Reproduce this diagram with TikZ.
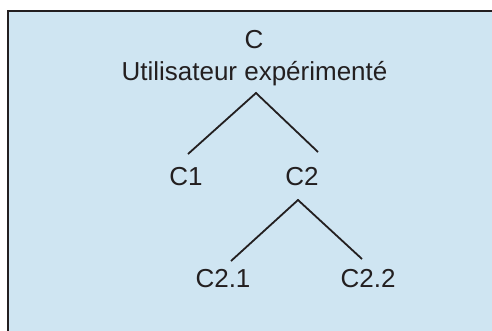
\documentclass[tikz,border=0pt]{standalone}
\usepackage{fontspec}
\setmainfont{Liberation Sans}
\definecolor{panel}{RGB}{207,229,242}
\definecolor{ink}{RGB}{35,31,32}
\begin{document}
\begin{tikzpicture}[x=1pt,y=-1pt,
  lbl/.style={anchor=base,inner sep=0pt,text=ink,font=\fontsize{26}{30}\selectfont},
  edge/.style={draw=ink,line width=1.8pt}]
\useasboundingbox (0,0) rectangle (492,330);
\fill[white] (0,0) rectangle (492,330);
\draw[fill=panel,draw=ink,line width=2pt] (8,11) rectangle (520,360);
\node[lbl] (c) at (254,48) {C};
\node[lbl] (cu) at (254.5,80) {Utilisateur expérimenté};
\node[lbl] (c1) at (186,185) {C1};
\node[lbl] (c2) at (302,185) {C2};
\node[lbl] (c21) at (223,287) {C2.1};
\node[lbl] (c22) at (368,287) {C2.2};
\coordinate (a1) at (256,93);
\coordinate (l1) at (188,154);
\coordinate (r1) at (318,152);
\coordinate (a2) at (298,200);
\coordinate (l2) at (231,261);
\coordinate (r2) at (362,259);
\draw[edge] (l1) -- (a1) -- (r1);
\draw[edge] (l2) -- (a2) -- (r2);
\end{tikzpicture}
\end{document}
